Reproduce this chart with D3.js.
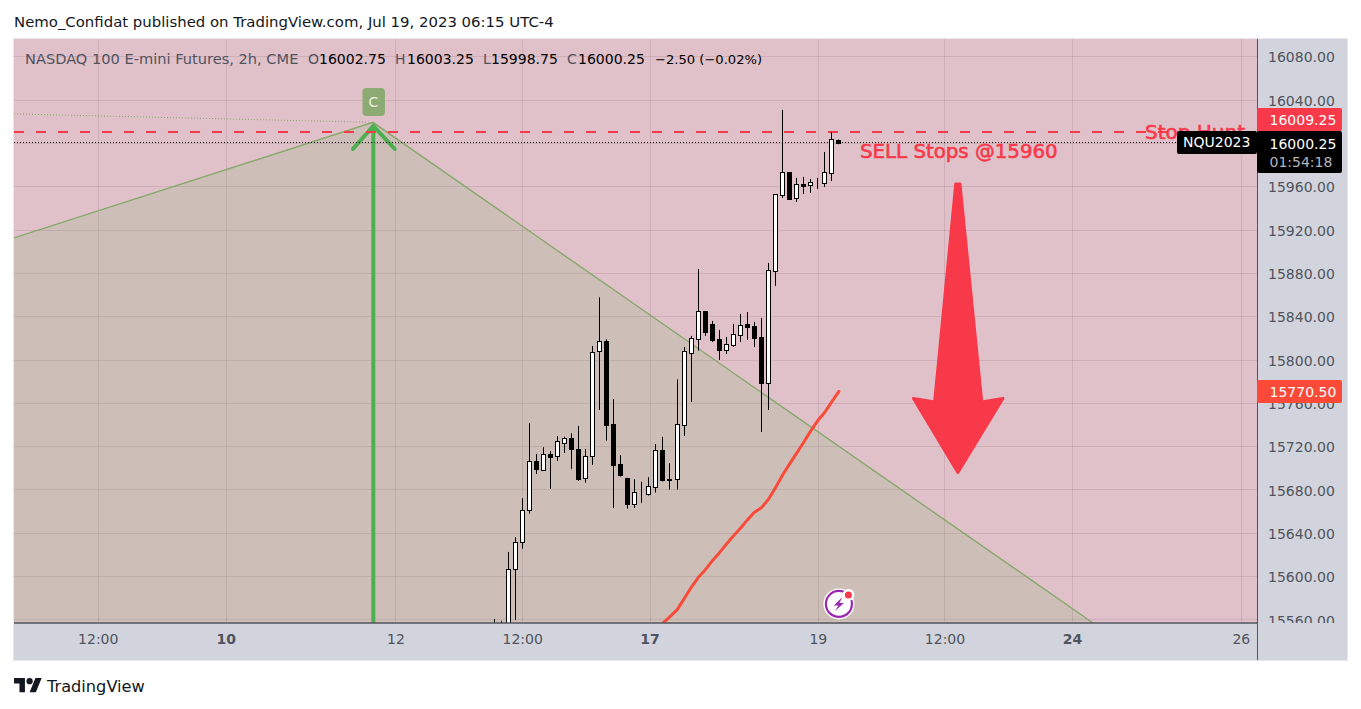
<!DOCTYPE html>
<html><head><meta charset="utf-8">
<script src="https://cdn.jsdelivr.net/npm/d3@7"></script>
<style>
html,body{margin:0;padding:0;background:#fff;overflow:hidden}
svg{display:block}
text{font-family:"DejaVu Sans",sans-serif}
</style></head><body>
<svg id="c" width="1361" height="709"></svg>
<script>
// ---------- data (bar number, price) ----------
const firstBar = -2;
const opens  = [15555,15552,15540,15606.3,15631.3,15660.8,15706,15698,15712.8,15710.6,15723.3,15727.3,15717.1,15691,15710.6,15808.2,15816.9,15740.2,15703.6,15690.7,15667,15677.4,15676.2,15682.7,15716.2,15689.1,15689.5,15739.9,15806.4,15819.3,15844.5,15832.9,15819,15808.8,15813.8,15823,15832.9,15831,15820.8,15778.4,15881.8,15952.3,15973.2,15949.5,15962.1,15961.5,15963.7,15963.4,15972.6,16002.75];
const highs  = [15560.4,15558.6,15622.3,15635.9,15671.9,15741.1,15712.8,15719,15715.3,15729.4,15728.8,15731.9,15738.7,15717.4,15812.5,15857.5,15818.7,15763.6,15711.9,15690.7,15689.4,15687,15691.3,15722,15728.5,15704.2,15781.7,15811.6,15821.8,15883.6,15844.5,15835.6,15827.3,15820.8,15832.9,15842.1,15843.9,15834.7,15838.4,15889.2,15952.6,16030.5,15973.2,15967.7,15968.6,15966.7,15967.7,15991.7,16010.2,16003.25];
const lows   = [15540,15540,15530,15559.5,15625.4,15657.7,15694.3,15697.1,15680.5,15706.4,15713.7,15699,15687.9,15686.3,15702.6,15753.4,15725.1,15662.9,15691.9,15662.3,15662.9,15667.6,15674.3,15677.1,15687.3,15679.9,15679.9,15729.4,15760.8,15808.2,15821.8,15816.2,15799.6,15805.1,15811.6,15816.2,15818,15811.6,15733.1,15753.4,15867.9,15949.2,15948.3,15945.5,15952.9,15953.8,15957.5,15959.4,15964.9,15998.75];
const closes = [15552,15550,15606.3,15631.3,15660.8,15706,15699.3,15712.5,15710.3,15724.5,15727.3,15717.7,15689.4,15710.6,15806.7,15816.9,15739.9,15703,15693.4,15667,15677.4,15677.4,15683,15716.2,15689.1,15689.5,15740.2,15807.6,15819.6,15844.5,15825.8,15818,15808.8,15814.1,15823.3,15831.6,15830.4,15820.2,15778.4,15882.4,15952.6,15972.9,15948.3,15961.8,15960.3,15963.7,15963.7,15972.9,16003.4,16000.25];
const maBars = [20,21,22,23,24,25,26,27,28,29,30,31,32,33,34,35,36,37,38,39,40,41,42,43,44,45,46,47];
const maValues = [15540,15549,15556.5,15562.6,15568.8,15578.9,15589.4,15598.6,15605.7,15614,15621.4,15629.4,15637,15644.2,15651.9,15659,15663.2,15671,15681.7,15693.4,15703.6,15713.5,15723.6,15734.1,15743.6,15751.3,15761.1,15770.5];
const priceTicks = [16080,16040,16000,15960,15920,15880,15840,15800,15760,15720,15680,15640,15600,15560];
const timeBars = [-58.3,-40.1,-16,2,20.1,44,62,80.1,104.1];
const timeLabels = ["12:00","10","12","12:00","17","19","12:00","24","26"];
const boldLabels = ["10","17","24"];
// drawings as [bar, price]
const triangleEdge = [[-70.2,15912.3],[-19.2,16019],[83.1,15556.7]];
const triangleFloor = [[83.1,15500],[-71,15500]];
const dottedEdge = [[-70.2,16026.8],[-19.2,16019]];
const greenShaft = [[-19.15,15540],[-19.15,16015.6]];
const greenHead = [[-22.05,15994.4],[-19.15,16015.6],[-16.1,15994.4]];
const redArrow = [[63.6,15962.1],[64.2,15962.1],[67.3,15760.8],[70.3,15764.1],[63.9,15695.7],[57.6,15764.1],[60.6,15760.8]];
const stopLevel = 16009.25, lastPrice = 16000.25, maLast = 15770.5, lastBar = 47;

// ---------- layout ----------
const L=14,R=1257,T=39,B=623,FR=1347,FB=660;
const x=d3.scaleLinear().domain([-70.2,106.4]).range([L,R]);
const y=d3.scaleLinear().domain([15560,16080]).range([619.4,56.3]);
const pt=d=>[x(d[0]),y(d[1])];
const svg=d3.select("#c");
const defs=svg.append("defs");
defs.append("clipPath").attr("id","pane").append("rect").attr("x",L).attr("y",T).attr("width",R-L).attr("height",B-T);
defs.append("clipPath").attr("id","axisclip").append("rect").attr("x",R).attr("y",T).attr("width",FR-R).attr("height",B-T);

svg.append("rect").attr("x",13.5).attr("y",38.5).attr("width",1334).attr("height",622).attr("fill","#e0c1c9").attr("stroke","#e6e8ee");
const pane=svg.append("g").attr("clip-path","url(#pane)");
// tan area
pane.append("path").attr("d",d3.line()(triangleEdge.concat(triangleFloor).map(pt))+"Z").attr("fill","#cdbfb8");
// grid
const gridCol="rgba(105,65,75,0.14)";
pane.selectAll("line.h").data(priceTicks).join("line").attr("class","h")
  .attr("x1",L).attr("x2",R).attr("y1",d=>Math.round(y(d))+.5).attr("y2",d=>Math.round(y(d))+.5).attr("stroke",gridCol);
pane.selectAll("line.v").data(timeBars).join("line").attr("class","v")
  .attr("x1",d=>Math.round(x(d))+.5).attr("x2",d=>Math.round(x(d))+.5).attr("y1",T).attr("y2",B).attr("stroke",gridCol);
// triangle edges
pane.append("path").attr("d",d3.line()(triangleEdge.map(pt))).attr("fill","none").attr("stroke","#86a86a").attr("stroke-width",1.4);
pane.append("path").attr("d",d3.line()(dottedEdge.map(pt))).attr("fill","none").attr("stroke","#86a86a").attr("stroke-width",1).attr("stroke-dasharray","1 2");
// green arrow
pane.append("path").attr("d",d3.line()(greenShaft.map(pt))).attr("fill","none").attr("stroke","#4caf50").attr("stroke-width",4);
pane.append("path").attr("d",d3.line()(greenHead.map(pt))).attr("fill","none").attr("stroke","#4caf50").attr("stroke-width",4).attr("stroke-linecap","round");
// C badge
const apex=pt(triangleEdge[1]);
svg.append("rect").attr("x",apex[0]-10.5).attr("y",88).attr("width",22.5).attr("height",28).attr("rx",4).attr("fill","#8bab72");
svg.append("text").attr("x",apex[0]+.5).attr("y",107).attr("text-anchor","middle").attr("font-size",14).attr("fill","#f0eee0").text("C");
// dashed / dotted price lines
pane.append("line").datum(stopLevel).attr("x1",L).attr("x2",R)
  .attr("y1",d=>y(d)-1).attr("y2",d=>y(d)-1).attr("stroke","#f7394a").attr("stroke-width",2).attr("stroke-dasharray","10 12");
pane.append("line").datum(lastPrice).attr("x1",L).attr("x2",R).attr("y1",d=>Math.round(y(d))-.5).attr("y2",d=>Math.round(y(d))-.5)
  .attr("stroke","#000").attr("stroke-dasharray","1 2");
// candles
const bars=opens.map((o,i)=>({b:firstBar+i,o,h:highs[i],l:lows[i],c:closes[i]}));
const cg=pane.append("g").selectAll("g").data(bars).join("g");
const cx=d=>Math.round(x(d.b)-.5);
cg.append("line").attr("x1",d=>cx(d)+.5).attr("x2",d=>cx(d)+.5).attr("y1",d=>y(d.h)).attr("y2",d=>y(d.l)).attr("stroke","#000").attr("stroke-width",1);
cg.append("rect").attr("x",d=>cx(d)-1.5).attr("width",4)
  .attr("y",d=>Math.round(y(Math.max(d.o,d.c)))+.5)
  .attr("height",d=>Math.max(0,Math.round(y(Math.min(d.o,d.c)))-Math.round(y(Math.max(d.o,d.c)))))
  .attr("fill",d=>d.c>=d.o?"#fff":"#000").attr("stroke","#000").attr("stroke-width",1);
// MA line
pane.append("path").attr("d",d3.line().x((d,i)=>x(maBars[i])).y(d=>y(d))(maValues)).attr("fill","none").attr("stroke","#f94b3a").attr("stroke-width",3).attr("stroke-linejoin","round").attr("stroke-linecap","round");
// red arrow
pane.append("path").attr("d",d3.line()(redArrow.map(pt))+"Z").attr("fill","#f7394a").attr("stroke","#f7394a").attr("stroke-width",3).attr("stroke-linejoin","round");
// annotations
pane.append("text").attr("x",860).attr("y",158).attr("font-size",19.8).attr("fill","#f7394a").attr("stroke","#f7394a").attr("stroke-width",.6).text("SELL Stops @15960");
pane.append("text").attr("x",1145).attr("y",139).attr("font-size",20).attr("fill","#f7394a").attr("stroke","#f7394a").attr("stroke-width",.6).text("Stop Hunt");
// lightning
const bolt=svg.append("g").attr("transform",`translate(${x(lastBar)},${y(15574.3)})`);
bolt.append("circle").attr("r",15.5).attr("fill","#fff");
bolt.append("circle").attr("r",13).attr("fill","none").attr("stroke","#9c27b0").attr("stroke-width",2.2);
bolt.append("path").attr("d","M3.5,-7 L-5,1.5 L-0.5,1.5 L-4,7 L5,-1 L0.5,-1 Z").attr("fill","#9c27b0");
bolt.append("circle").attr("cx",9.5).attr("cy",-9).attr("r",6).attr("fill","#fff");
bolt.append("circle").attr("cx",9.5).attr("cy",-9).attr("r",3.5).attr("fill","#f7394a");
// legend
const legend=[["NASDAQ 100 E-mini Futures, 2h, CME",25,"#50535e",14.6],["O",308,"#50535e",14],["16002.75",319,"#000",14],["H",395,"#50535e",14],["16003.25",407,"#000",14],["L",483,"#50535e",14],["15998.75",491,"#000",14],["C",567,"#50535e",14],["16000.25",578,"#000",14],["−2.50 (−0.02%)",655,"#000",13.1]];
svg.selectAll("text.lg").data(legend).join("text").attr("class","lg").attr("x",d=>d[1]).attr("y",64).attr("font-size",d=>d[3]).attr("fill",d=>d[2]).text(d=>d[0]);
// axes bands
svg.append("rect").attr("x",R).attr("y",T).attr("width",FR-R).attr("height",FB-T).attr("fill","#d1d4dc");
svg.append("rect").attr("x",L).attr("y",B).attr("width",FR-L).attr("height",FB-B).attr("fill","#d1d4dc");
// price axis
const ax=svg.append("g").attr("clip-path","url(#axisclip)").append("g").attr("transform",`translate(${R},0)`)
  .call(d3.axisRight(y).tickValues(priceTicks).tickFormat(d3.format(".2f")).tickSize(0).tickPadding(11));
ax.select(".domain").remove();
ax.selectAll("text").attr("font-size",14).attr("dy",".4em").attr("font-family",'"DejaVu Sans",sans-serif').attr("fill","#50535e");
// time axis
const tx=svg.append("g").attr("transform",`translate(0,${B})`)
  .call(d3.axisBottom(x).tickValues(timeBars).tickFormat((d,i)=>timeLabels[i]).tickSize(0).tickPadding(11));
tx.select(".domain").remove();
tx.selectAll("text").attr("font-size",14).attr("font-family",'"DejaVu Sans",sans-serif').attr("fill","#50535e")
  .attr("font-weight",function(d,i){return boldLabels.includes(timeLabels[i])?700:400});
svg.append("line").attr("x1",L).attr("x2",R).attr("y1",B).attr("y2",B).attr("stroke","#50535e").attr("stroke-width",1.5);
svg.append("line").attr("x1",R+.5).attr("x2",R+.5).attr("y1",T).attr("y2",FB).attr("stroke","#50535e");
// price labels
function lab(xp,yp,w,h,fill,r){svg.append("rect").attr("x",xp).attr("y",yp).attr("width",w).attr("height",h).attr("rx",r).attr("fill",fill);}
function txt(xp,yp,s,col,fs){svg.append("text").attr("x",xp).attr("y",yp).attr("font-size",fs||14).attr("fill",col).text(s);}
lab(1257,108,85,23,"#f7394a",2);
txt(1269.5,125,d3.format(".2f")(stopLevel),"#fff");
lab(1177,131,80,23,"#000",2);
txt(1183,147,"NQU2023","#fff",14);
lab(1257,131,85,42,"#000",2);
txt(1269.5,149,d3.format(".2f")(lastPrice),"#fff");
txt(1269.5,167,"01:54:18","#b2b5be");
lab(1257,380,85,23,"#fb4a37",2);
txt(1269.5,397,d3.format(".2f")(maLast),"#fff");
// header & footer
svg.append("text").attr("x",14).attr("y",27).attr("font-size",14.9).attr("fill","#131722").text("Nemo_Confidat published on TradingView.com, Jul 19, 2023 06:15 UTC-4");
const logo=svg.append("g").attr("transform","translate(14,675) scale(0.78)").attr("fill","#131722");
logo.append("path").attr("d","M14 22H7V11H0V4h14v18zM28 22h-8l7.5-18h8L28 22z");
logo.append("circle").attr("cx",20).attr("cy",8).attr("r",4);
svg.append("text").attr("x",47).attr("y",691.5).attr("font-size",16.2).attr("fill","#131722").text("TradingView");
</script>
</body></html>
